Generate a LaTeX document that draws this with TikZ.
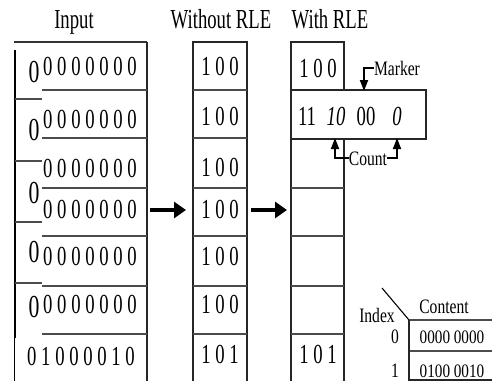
\documentclass[tikz,border=0pt]{standalone}
\usepackage{fontspec}
\setmainfont[FakeStretch=0.68]{Liberation Serif}
\newfontfamily\smallf[FakeStretch=0.76]{Liberation Serif}
\newfontfamily\tablef[FakeStretch=0.8]{Liberation Serif}
\usetikzlibrary{arrows.meta}
\begin{document}
\begin{tikzpicture}[x=1pt,y=-1pt,
  hd/.style={font=\fontsize{27.5}{27.5}\selectfont, inner sep=0pt, anchor=base},
  dg/.style={font=\fontsize{27.5}{27.5}\selectfont, inner sep=0pt, anchor=base},
  bg/.style={font=\fontsize{32}{32}\selectfont, inner sep=0pt, anchor=base},
  sm/.style={font=\smallf\fontsize{20.5}{20.5}\selectfont, inner sep=0pt, anchor=base},
  tb/.style={font=\tablef\fontsize{19}{19}\selectfont, inner sep=0pt, anchor=base},
  border/.style={line width=1.1pt, draw=black!85},
  sepline/.style={line width=1.8pt, draw=black!70},
  bigarr/.style={line width=3.4pt, -{Triangle[length=12pt,width=16pt]}},
  ptr/.style={line width=1.8pt, -{Triangle[length=11pt,width=8pt]}}]
\useasboundingbox (0,0) rectangle (492,381);
% headers
\node[hd] (hIn) at (74,28) {Input};
\node[hd] (hWo) at (221,28) {Without RLE};
\node[hd] (hWi) at (330,28) {With RLE};
% input column frame
\draw[line width=1.8pt, draw=black!80] (14,42) -- (147,42);
\draw[border] (147,42) -- (147,381);
\draw[line width=2pt] (15,50) -- (15,338);
\draw[line width=1pt] (14,338) -- (14,381);
\foreach \yy in {90,138,188,236,286,334} \draw[sepline] (42,\yy) -- (147,\yy);
\foreach \yy in {99,161,222,283} \draw[sepline] (15,\yy) -- (42,\yy);
% input texts
\node[dg, anchor=base west] (i1) at (43,75) {0 0 0 0 0 0 0};
\node[dg, anchor=base west] (i2) at (43,128) {0 0 0 0 0 0 0};
\node[dg, anchor=base west] (i3) at (43,177) {0 0 0 0 0 0 0};
\node[dg, anchor=base west] (i4) at (43,218) {0 0 0 0 0 0 0};
\node[dg, anchor=base west] (i5) at (43,265) {0 0 0 0 0 0 0};
\node[dg, anchor=base west] (i6) at (43,313) {0 0 0 0 0 0 0};
\node[dg, anchor=base west] (i7) at (27,365) {0 1 0 0 0 0 1 0};
\node[bg] (b1) at (34,82) {0};
\node[bg] (b2) at (34,140) {0};
\node[bg] (b4) at (34,203) {0};
\node[bg] (b5) at (34,262) {0};
\node[bg] (b6) at (34,317) {0};
% middle column
\draw[border] (193,381) -- (193,42) -- (247,42) -- (247,381);
\foreach \yy in {90,138,188,236,286,334} \draw[sepline] (193,\yy) -- (247,\yy);
\node[dg] (m1) at (220,75) {1 0 0};
\node[dg] (m2) at (220,125) {1 0 0};
\node[dg] (m3) at (220,176) {1 0 0};
\node[dg] (m4) at (220,218) {1 0 0};
\node[dg] (m5) at (220,265) {1 0 0};
\node[dg] (m6) at (220,313) {1 0 0};
\node[dg] (m7) at (220,363) {1 0 1};
% right column
\draw[border] (291,381) -- (291,42) -- (344,42) -- (344,90);
\draw[border] (344,139) -- (344,381);
\draw[border] (291,90) rectangle (426,139);
\foreach \yy in {188,236,286,334} \draw[sepline] (291,\yy) -- (344,\yy);
\node[dg] (r1) at (318,77) {1 0 0};
\node[dg] (r7) at (318,363) {1 0 1};
\node[dg] (r2a) at (307,125) {11};
\node[dg] (r2b) at (336,125) {\itshape 10};
\node[dg] (r2c) at (366,125) {00};
\node[dg] (r2d) at (397,125) {\itshape 0};
% arrows between columns
\coordinate (a1s) at (150,210);
\coordinate (a1e) at (186,210);
\coordinate (a2s) at (251,210);
\coordinate (a2e) at (287,210);
\draw[bigarr] (a1s) -- (a1e);
\draw[bigarr] (a2s) -- (a2e);
% marker and count
\node[sm] (mk) at (397,75) {Marker};
\node[sm] (ct) at (368,165) {Count};
\coordinate (mkT) at (364,91);
\coordinate (cL) at (335,138);
\coordinate (cR) at (397,138);
\draw[ptr] (mk.west) -| (mkT);
\draw[ptr] (ct.west) -| (cL);
\draw[ptr] (ct.east) -| (cR);
% table
\node[sm] (ix) at (377,322) {Index};
\node[sm] (cn) at (444,313) {Content};
\node[tb] (t0) at (452,343) {0000 0000};
\node[tb] (t1) at (452,377) {0100 0010};
\node[sm] (x0) at (395,343) {0};
\node[sm] (x1) at (395,377) {1};
\draw[line width=1.1pt] (382,288) -- (409,320);
\draw[sepline] (409,320) -- (492,320);
\draw[sepline] (409,351) -- (492,351);
\draw[border] (409,320) -- (409,381);
\draw[border] (409,380) -- (492,380);
\end{tikzpicture}
\end{document}
